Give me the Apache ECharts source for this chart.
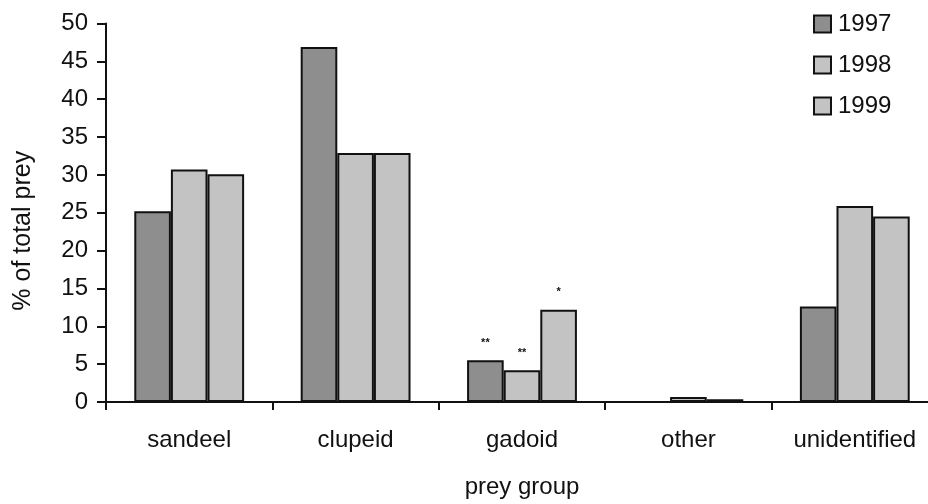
<!DOCTYPE html>
<html>
<head>
<meta charset="utf-8">
<script src="https://cdn.jsdelivr.net/npm/echarts@6/dist/echarts.min.js"></script>
<style>
  html, body { margin: 0; padding: 0; background: #ffffff; }
  #frame { width: 928px; height: 504px; overflow: hidden; position: relative; }
  #chart { width: 938px; height: 504px; position: absolute; left: 0; top: 0; }
</style>
</head>
<body>
<div id="frame"><div id="chart"></div></div>
<script>
// Prey composition by year (% of total prey)
const categories = ['sandeel', 'clupeid', 'gadoid', 'other', 'unidentified'];
const years = ['1997', '1998', '1999'];
const y1997 = [25.2, 46.9, 5.5, 0, 12.6];
const y1998 = [30.7, 32.9, 4.2, 0.65, 25.9];
const y1999 = [30.1, 32.9, 12.2, 0.35, 24.5];
// significance marks shown above bars
const marks1997 = ['', '', '**', '', ''];
const marks1998 = ['', '', '**', '', ''];
const marks1999 = ['', '', '*', '', ''];
const yTicks = { min: 0, max: 50, step: 5 };

const FONT = 'Liberation Sans, Arial, sans-serif';
const fills = ['#8e8e8e', '#c3c3c3', '#c3c3c3'];

function makeSeries(name, values, marks, color) {
  return {
    name: name,
    type: 'bar',
    barGap: '0%',
    barCategoryGap: '34%',
    data: values.map(function (v, i) {
      return {
        value: v,
        label: {
          show: marks[i] !== '',
          formatter: marks[i]
        }
      };
    }),
    itemStyle: { color: color, borderColor: '#111111', borderWidth: 2 },
    label: {
      position: 'top',
      distance: 12,
      fontFamily: FONT,
      fontSize: 11,
      fontWeight: 'bold',
      color: '#111111'
    },
    emphasis: { disabled: true }
  };
}

const chart = echarts.init(document.getElementById('chart'), null, { renderer: 'canvas' });
chart.setOption({
  animation: false,
  backgroundColor: '#ffffff',
  textStyle: { fontFamily: FONT },
  grid: { left: 106, top: 23.5, right: 0, bottom: 99, containLabel: false },
  legend: {
    orient: 'vertical',
    left: 808,
    top: 7,
    itemWidth: 17,
    itemHeight: 17,
    itemGap: 17,
    icon: 'rect',
    data: years,
    textStyle: { fontFamily: FONT, fontSize: 24, color: '#111111', padding: [0, 0, 0, 2] }
  },
  xAxis: {
    type: 'category',
    data: categories,
    name: 'prey group',
    nameLocation: 'middle',
    nameGap: 73,
    nameTextStyle: { fontFamily: FONT, fontSize: 24, color: '#111111' },
    axisLine: { lineStyle: { color: '#111111', width: 2 } },
    axisTick: { show: true, alignWithLabel: false, length: 8, lineStyle: { color: '#111111', width: 2 } },
    axisLabel: { fontFamily: FONT, fontSize: 24, color: '#111111', margin: 26, interval: 0 },
    splitLine: { show: false }
  },
  yAxis: {
    type: 'value',
    min: yTicks.min,
    max: yTicks.max,
    interval: yTicks.step,
    name: '% of total prey',
    nameLocation: 'middle',
    nameGap: 70,
    nameTextStyle: { fontFamily: FONT, fontSize: 25, color: '#111111', padding: [0, 36, 0, 0] },
    axisLine: { show: true, lineStyle: { color: '#111111', width: 2 } },
    axisTick: { show: true, length: 9, lineStyle: { color: '#111111', width: 2 } },
    axisLabel: { fontFamily: FONT, fontSize: 24, color: '#111111', margin: 18 },
    splitLine: { show: false }
  },
  series: [
    makeSeries(years[0], y1997, marks1997, fills[0]),
    makeSeries(years[1], y1998, marks1998, fills[1]),
    makeSeries(years[2], y1999, marks1999, fills[2])
  ]
});
</script>
</body>
</html>
